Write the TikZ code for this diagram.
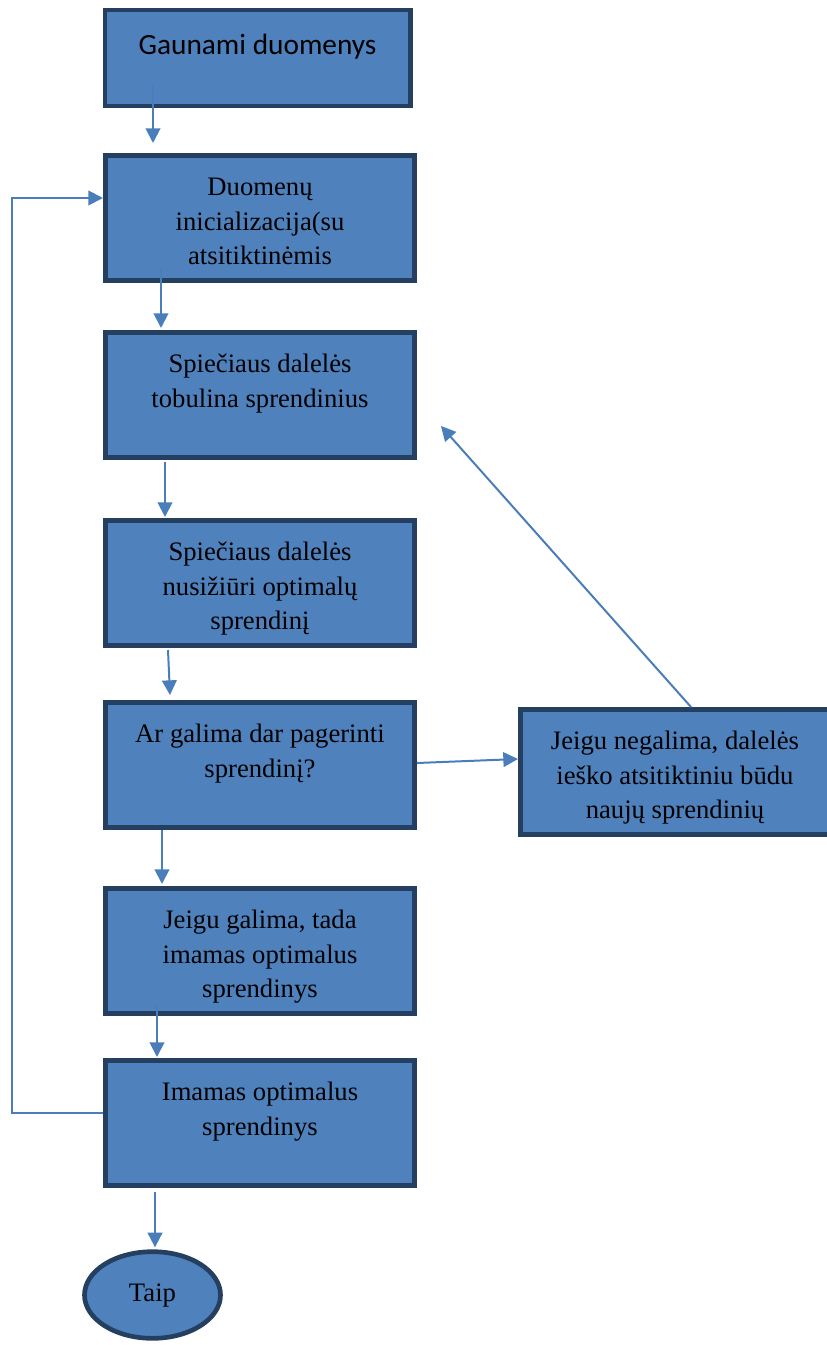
\documentclass[tikz,border=0pt]{standalone}
\usepackage{fontspec}
\setmainfont{Liberation Serif}
\newfontfamily\calibri{Carlito}
\usetikzlibrary{arrows.meta,calc,shapes.geometric}
\definecolor{boxfill}{HTML}{4F81BD}
\definecolor{boxline}{HTML}{243F60}
\definecolor{flowblue}{HTML}{4A7EBB}

% text sits at the top of each box
\newcommand{\toplines}[1]{\parbox[c][94pt][t]{232pt}{\centering
  \rule{0pt}{30pt}#1}}

\begin{document}
\begin{tikzpicture}[x=0.75pt,y=0.75pt,
                    >={Triangle[length=11pt,width=11pt]},
                    stage/.style={draw=boxline,fill=boxfill,line width=3.5pt,
                      inner sep=0pt,minimum width=232pt,minimum height=94pt,
                      font=\fontsize{20}{26}\selectfont},
                    flow/.style={->,draw=flowblue,line width=1.5pt}]
  \useasboundingbox (0,0) rectangle (827,-1345);

  \node[stage,minimum width=229pt,minimum height=72pt,
        font=\calibri\fontsize{22}{26}\selectfont] (gaunami) at (257.5,-58)
    {\parbox[c][72pt][t]{228pt}{\centering\rule{0pt}{33.5pt}Gaunami duomenys}};
  \node[stage] (init) at (260,-218)
    {\toplines{Duomenų\\ inicializacija(su\\ atsitiktinėmis}};
  \node[stage] (spread) at (260,-395)
    {\toplines{Spiečiaus dalelės\\ tobulina sprendinius}};
  \node[stage] (watch) at (260,-583)
    {\toplines{Spiečiaus dalelės\\ nusižiūri optimalų\\ sprendinį}};
  \node[stage] (ask) at (260,-765)
    {\toplines{Ar galima dar pagerinti\\ sprendinį?}};
  \node[stage] (search) at (675,-772)
    {\toplines{Jeigu negalima, dalelės\\ ieško atsitiktiniu būdu\\ naujų sprendinių}};
  \node[stage] (take) at (260,-951)
    {\toplines{Jeigu galima, tada\\ imamas optimalus\\ sprendinys}};
  \node[stage] (best) at (260,-1123)
    {\toplines{Imamas optimalus\\ sprendinys}};
  \node[stage,ellipse,minimum width=102pt,minimum height=65pt] (taip)
    at (152.5,-1295) {Taip};
  \coordinate (backtip) at (441,-426);

  \draw[flow] ($(gaunami.south)+(-104.5,23)$) -- ($(init.north)+(-107,10)$);
  \draw[flow] ($(init.south)+(-99,15)$) -- ($(spread.north)+(-99,2)$);
  \draw[flow] ($(spread.south)+(-95,-2)$) -- ($(watch.north)+(-95,1)$);
  \draw[flow] ($(watch.south)+(-92,-2)$) -- ($(ask.north)+(-90,5)$);
  \draw[flow] ($(ask.south)+(-98,0)$) -- ($(take.north)+(-98,2)$);
  \draw[flow] ($(take.south)+(-103,11)$) -- ($(best.north)+(-103,1)$);
  \draw[flow] ($(best.south)+(-105,-4)$) -- ($(taip.north)+(2.5,2)$);
  \draw[flow] ($(ask.east)+(0,2)$) -- ($(search.west)+(0,13)$);
  \draw[flow] ($(search.north)+(16,0)$) -- (backtip);
  % return loop on the left
  \draw[flow] ($(best.west)+(0,10)$) -| (12,-198) -- ($(init.west)+(0,20)$);
\end{tikzpicture}
\end{document}
